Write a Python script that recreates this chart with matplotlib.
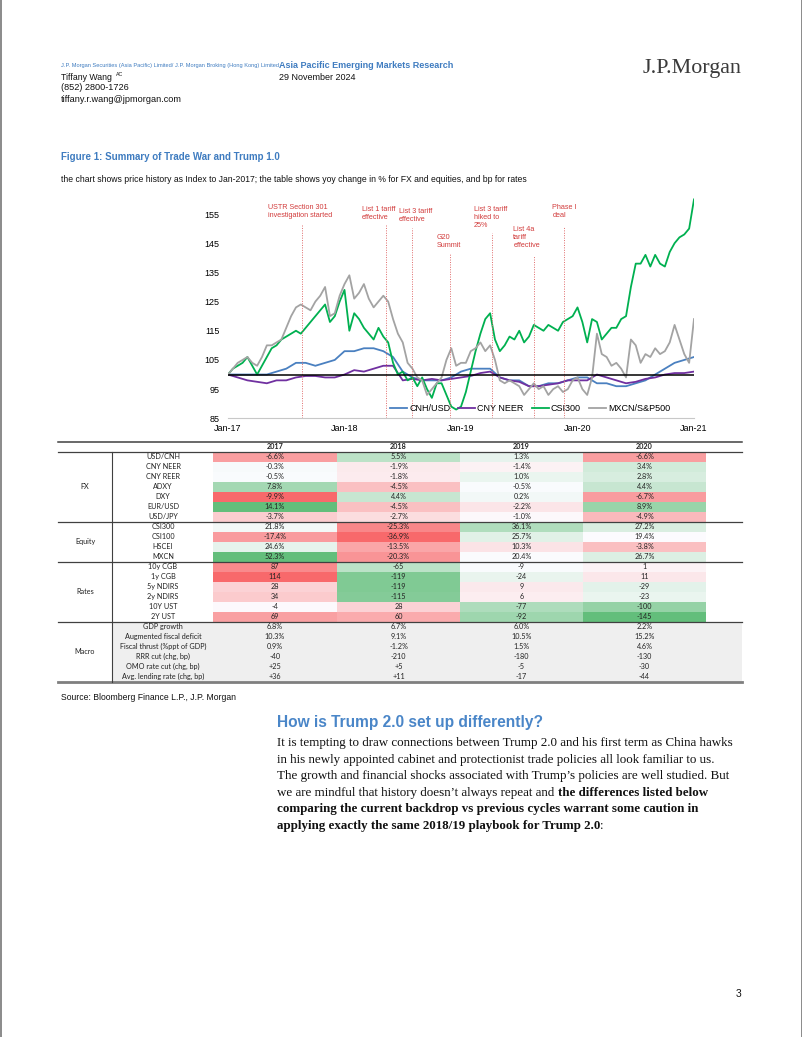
import numpy as np
import matplotlib
matplotlib.use("Agg")
import matplotlib.pyplot as plt
from matplotlib import font_manager
from matplotlib.lines import Line2D
from matplotlib.patches import Rectangle

W, H = 802, 1037

installed = {f.name for f in font_manager.fontManager.ttflist}
SANS = "Liberation Sans"
NARROW = "Liberation Sans Narrow" if "Liberation Sans Narrow" in installed else SANS
SERIF = "Liberation Serif"
TABLE = "Lato" if "Lato" in installed else SANS

HDR_BLUE = "#3f7cc0"
RED_TXT = "#d23c3c"

# ---- chart data (index to Jan-2017 = 100) ----
# monthly, Jan-17 .. Jan-21
cnh_usd = [100, 100, 100, 100, 100, 101, 102, 104, 104, 103, 104, 105,
           108, 108, 109, 109, 108, 106, 101, 99, 98, 98, 98, 99,
           101, 102, 102, 102, 99, 98, 98, 96, 96, 97, 97, 98,
           99, 99, 97, 97, 96, 96, 97, 98, 100, 102, 104, 105, 106]
cny_neer = [100, 99, 98, 97.5, 97, 98, 98, 99, 99.5, 99.5, 99, 99,
            100, 101.5, 101, 102, 103, 103, 98, 98.5, 98, 98.5, 98, 98.5,
            99, 99.5, 100.5, 101, 99, 98, 97.5, 96, 96, 96.5, 97, 98,
            98, 98, 100, 99, 98, 97, 97.5, 98.5, 99, 100, 100.5, 100.5, 101]
# half-monthly, Jan-17 .. Jan-21
csi300 = [100, 102, 103, 104, 106, 103, 100, 103, 106, 109, 110, 112,
          113, 114, 115, 114, 116, 118, 120, 122, 124, 118, 120, 125,
          129, 115, 121, 119, 116, 114, 112, 116, 113, 111, 104, 100,
          101, 98, 99, 96, 99, 95, 92, 97, 97, 93, 89, 88,
          89, 94, 101, 108, 114, 119, 121, 112, 108, 110, 113, 112,
          115, 111, 113, 117, 116, 115, 117, 116, 115, 118, 119, 120,
          123, 118, 111, 119, 118, 112, 114, 116, 116, 119, 120, 130,
          138, 138, 141, 137, 141, 138, 137, 142, 145, 147, 148, 150, 160]
mxcn_spx = [100, 102, 104, 105, 106, 104, 103, 106, 110, 110, 111, 112,
            116, 120, 123, 124, 123, 122, 125, 127, 130, 120, 121, 127,
            131, 134, 126, 128, 131, 126, 123, 125, 127, 125, 119, 114,
            111, 104, 102, 99, 98, 93, 95, 97, 99, 105, 109, 103,
            104, 104, 108, 109, 111, 108, 110, 105, 98, 97, 98, 97,
            96, 93, 95, 97, 95, 96, 93, 95, 96, 94, 95, 98,
            99, 95, 93, 99, 114, 107, 106, 103, 104, 102, 99, 112,
            110, 104, 107, 106, 109, 107, 108, 111, 117, 112, 107, 104, 119]
series_names = ["CNH/USD", "CNY NEER", "CSI300", "MXCN/S&P500"]
series_colors = ["#4a80c0", "#7030a0", "#00b050", "#a3a3a3"]
x_ticks_lbl = ["Jan-17", "Jan-18", "Jan-19", "Jan-20", "Jan-21"]
y_ticks = [85, 95, 105, 115, 125, 135, 145, 155]

# trade-war events: months after Jan-17
event_labels = ["USTR Section 301\ninvestigation started", "List 1 tariff\neffective",
                "List 3 tariff\neffective", "G20\nSummit", "List 3 tariff\nhiked to\n25%",
                "List 4a\ntariff\neffective", "Phase I\ndeal"]
event_month = [7.66, 16.3, 19.0, 22.9, 27.2, 31.5, 34.6]
event_line_top = [151.2, 151.2, 150.1, 141.5, 148.4, 140.6, 150.4]
event_text_x = [4.1, 13.8, 17.6, 21.5, 25.3, 29.4, 33.4]
event_text_top = [158.3, 157.8, 157.2, 148.0, 157.8, 150.9, 158.6]

# ---- table data ----
years = ["2017", "2018", "2019", "2020"]
fx_items = ["USD/CNH", "CNY NEER", "CNY REER", "ADXY", "DXY", "EUR/USD", "USD/JPY"]
fx_vals = [[-6.6, 5.5, 1.3, -6.6], [-0.3, -1.9, -1.4, 3.4], [-0.5, -1.8, 1.0, 2.8],
           [7.8, -4.5, -0.5, 4.4], [-9.9, 4.4, 0.2, -6.7], [14.1, -4.5, -2.2, 8.9],
           [-3.7, -2.7, -1.0, -4.9]]
eq_items = ["CSI300", "CSI100", "HSCEI", "MXCN"]
eq_vals = [[21.8, -25.3, 36.1, 27.2], [-17.4, -36.9, 25.7, 19.4],
           [24.6, -13.5, 10.3, -3.8], [52.3, -20.3, 20.4, 26.7]]
rates_items = ["10y CGB", "1y CGB", "5y NDIRS", "2y NDIRS", "10Y UST", "2Y UST"]
rates_vals = [[87, -65, -9, 1], [114, -119, -24, 11], [28, -119, 9, -29],
              [34, -115, 6, -23], [-4, 28, -77, -100], [69, 60, -92, -145]]
macro_items = ["GDP growth", "Augmented fiscal deficit", "Fiscal thrust (%ppt of GDP)",
               "RRR cut (chg, bp)", "OMO rate cut (chg, bp)", "Avg. lending rate (chg, bp)"]
macro_vals = [["6.8%", "6.7%", "6.0%", "2.2%"], ["10.3%", "9.1%", "10.5%", "15.2%"],
              ["0.9%", "-1.2%", "1.5%", "4.6%"], ["-40", "-210", "-180", "-130"],
              ["+25", "+5", "-5", "-30"], ["+36", "+11", "-17", "-44"]]

body_lines = [
    [("It is tempting to draw connections between Trump 2.0 and his first term as China hawks", False)],
    [("in his newly appointed cabinet and protectionist trade policies all look familiar to us.", False)],
    [("The growth and financial shocks associated with Trump\u2019s policies are well studied. But", False)],
    [("we are mindful that history doesn\u2019t always repeat and ", False), ("the differences listed below", True)],
    [("comparing the current backdrop vs previous cycles warrant some caution in", True)],
    [("applying exactly the same 2018/19 playbook for Trump 2.0", True), (":", False)],
]

RED = np.array([248, 105, 107]) / 255
WHITE = np.array([252, 252, 255]) / 255
GREEN = np.array([99, 190, 123]) / 255


def scale_color(v, lo, mid, hi, reverse=False):
    # excel style 3-colour scale: min red, median white, max green
    low_c, high_c = (GREEN, RED) if reverse else (RED, GREEN)
    if v <= mid:
        t = (v - lo) / (mid - lo) if mid > lo else 1.0
        return low_c + t * (WHITE - low_c)
    t = (v - mid) / (hi - mid) if hi > mid else 0.0
    return WHITE + t * (high_c - WHITE)


fig = plt.figure(figsize=(W / 100, H / 100), dpi=100)
page = fig.add_axes([0, 0, 1, 1])
page.set_xlim(0, W)
page.set_ylim(H, 0)
page.axis("off")
renderer = fig.canvas.get_renderer()


def fit_text(x, y, s, width, size, **kw):
    # draw text and shrink/grow it to the width seen on the page
    t = page.text(x, y, s, fontsize=size, **kw)
    w = t.get_window_extent(renderer).width
    t.set_fontsize(size * width / w)
    return t


# page border
page.plot([0.5, 0.5], [0, H], color="#777777", lw=1.2)
page.plot([W - 0.5, W - 0.5], [0, H], color="#777777", lw=1.2)

# ---- header ----
fit_text(61, 66, "J.P. Morgan Securities (Asia Pacific) Limited/ J.P. Morgan Broking (Hong Kong) Limited",
         215, 4.0, family=NARROW, color=HDR_BLUE, va="center")
fit_text(279, 65.5, "Asia Pacific Emerging Markets Research", 175, 6.5, family=SANS,
         weight="bold", color=HDR_BLUE, va="center")
fit_text(61, 77, "Tiffany Wang", 51, 6.6, family=SANS, color="#111111", va="center")
page.text(116, 74.5, "AC", fontsize=3.8, family=SANS, color="#111111", va="center")
fit_text(279, 77, "29 November 2024", 76, 6.5, family=SANS, color="#111111", va="center")
page.text(61, 88, "(852) 2800-1726", fontsize=6.6, family=SANS, color="#111111", va="center")
fit_text(61, 99, "tiffany.r.wang@jpmorgan.com", 120, 6.6, family=SANS, color="#111111", va="center")
page.text(741, 68, "J.P.Morgan", fontsize=15.8, family=SERIF, color="#3a3a3a", va="center", ha="right")

fit_text(61, 157, "Figure 1: Summary of Trade War and Trump 1.0", 219, 7.2, family=NARROW,
         weight="bold", color=HDR_BLUE, va="center")
fit_text(61, 180, "the chart shows price history as Index to Jan-2017; the table shows yoy change in % "
         "for FX and equities, and bp for rates", 464, 6.2, family=SANS, color="#111111", va="center")

# ---- chart ----
ax = fig.add_axes([228 / W, 1 - 418.3 / H, (694 - 228) / W, (418.3 - 196.5) / H])
ax.patch.set_alpha(0)
x_month = np.arange(len(cnh_usd))
x_half = np.arange(len(csi300)) / 2
for vals, xs, name, col in zip([cnh_usd, cny_neer, csi300, mxcn_spx],
                               [x_month, x_month, x_half, x_half],
                               series_names, series_colors):
    ax.plot(xs, vals, color=col, lw=1.3, label=name)
ax.axhline(100, color="black", lw=1.1, zorder=5)

for lbl, xm, ytop, tx, ty in zip(event_labels, event_month, event_line_top,
                                 event_text_x, event_text_top):
    ax.plot([xm, xm], [85, ytop], color="#e06a6a", lw=0.7, ls=(0, (1, 1.5)))
    ax.text(tx, ty, lbl, fontsize=5.2, family=NARROW, color=RED_TXT, va="top", ha="left",
            linespacing=1.2)

ax.set_xlim(0, 48)
ax.set_ylim(85, 161)
ax.set_yticks(y_ticks)
ax.set_yticklabels([str(v) for v in y_ticks], family=SANS, fontsize=6.5)
ax.set_xticks([0, 12, 24, 36, 48])
ax.set_xticklabels(x_ticks_lbl, family=SANS, fontsize=6.5)
ax.tick_params(axis="y", length=0, pad=6)
ax.tick_params(axis="x", length=0, pad=4)
for s in ["top", "right", "left"]:
    ax.spines[s].set_visible(False)
ax.spines["bottom"].set_color("#c8c8c8")
ax.spines["bottom"].set_linewidth(0.8)
handles = [Line2D([], [], color=c, lw=1.3) for c in series_colors]
ax.legend(handles, series_names, loc="center", bbox_to_anchor=(0.648, 0.045), ncol=4,
          frameon=False, prop={"family": SANS, "size": 6.5}, handlelength=1.9,
          handletextpad=0.2, columnspacing=0.9, borderaxespad=0)

# ---- table ----
T_LEFT, T_RIGHT = 58, 742
CAT_R, ITEM_R = 112, 213
col_edges = [213, 337, 460, 583, 706]
ROW_H = 10.0
top = 441.5
hdr_bottom = 451.5
txt_kw = dict(family=TABLE, fontsize=5.2, color="#222222", va="center", ha="center")

page.plot([T_LEFT, T_RIGHT], [top, top], color="#404040", lw=1.1)
for j, yr in enumerate(years):
    page.text((col_edges[j] + col_edges[j + 1]) / 2, 446.5, yr, weight="bold", **txt_kw)
page.plot([T_LEFT, T_RIGHT], [hdr_bottom, hdr_bottom], color="#404040", lw=0.9)

blocks = [("FX", fx_items, fx_vals, "pct", False),
          ("Equity", eq_items, eq_vals, "pct", False),
          ("Rates", rates_items, rates_vals, "bp", True),
          ("Macro", macro_items, macro_vals, "text", False)]
y = hdr_bottom
for bi, (cat, items, vals, kind, rev) in enumerate(blocks):
    y0 = y
    n = len(items)
    if kind != "text":
        flat = np.array(vals, dtype=float).ravel()
        lo, mid, hi = flat.min(), np.median(flat), flat.max()
    else:
        page.add_patch(Rectangle((CAT_R, y0), T_RIGHT - CAT_R, n * ROW_H,
                                 facecolor="#efefef", edgecolor="none", zorder=0))
    for i, (item, row) in enumerate(zip(items, vals)):
        yc = y0 + (i + 0.5) * ROW_H
        page.text((CAT_R + ITEM_R) / 2 + 0.5, yc, item, **txt_kw)
        for j, v in enumerate(row):
            if kind == "text":
                s = v
            else:
                col = scale_color(v, lo, mid, hi, reverse=rev)
                page.add_patch(Rectangle((col_edges[j], y0 + i * ROW_H), col_edges[j + 1] - col_edges[j],
                                         ROW_H, facecolor=col, edgecolor="none", zorder=0))
                s = f"{v:.1f}%" if kind == "pct" else f"{v:d}"
            page.text((col_edges[j] + col_edges[j + 1]) / 2, yc, s, **txt_kw)
    y = y0 + n * ROW_H
    page.text((T_LEFT + CAT_R) / 2, (y0 + y) / 2, cat, **txt_kw)
    last = bi == len(blocks) - 1
    page.plot([T_LEFT, T_RIGHT], [y, y], color="#7f7f7f" if last else "#404040",
              lw=2.0 if last else 0.9)
page.plot([CAT_R, CAT_R], [hdr_bottom, y], color="#404040", lw=0.8)

page.text(61, 697, "Source: Bloomberg Finance L.P., J.P. Morgan", fontsize=6.2, family=SANS,
          color="#111111", va="center")

# ---- text section ----
fit_text(277, 722, "How is Trump 2.0 set up differently?", 268, 11, family=SANS,
         weight="bold", color="#4a86c8", va="center")
for k, parts in enumerate(body_lines):
    xpos = 277
    yl = 743 + k * 16.6
    for txt, bold in parts:
        t = page.text(xpos, yl, txt, fontsize=9.4, family=SERIF, color="#111111",
                      weight="bold" if bold else "normal", va="center")
        xpos = t.get_window_extent(renderer).x1

page.text(741, 994, "3", fontsize=7.5, family=SANS, color="#111111", va="center", ha="right")

fig.savefig("out.png", dpi=100)
